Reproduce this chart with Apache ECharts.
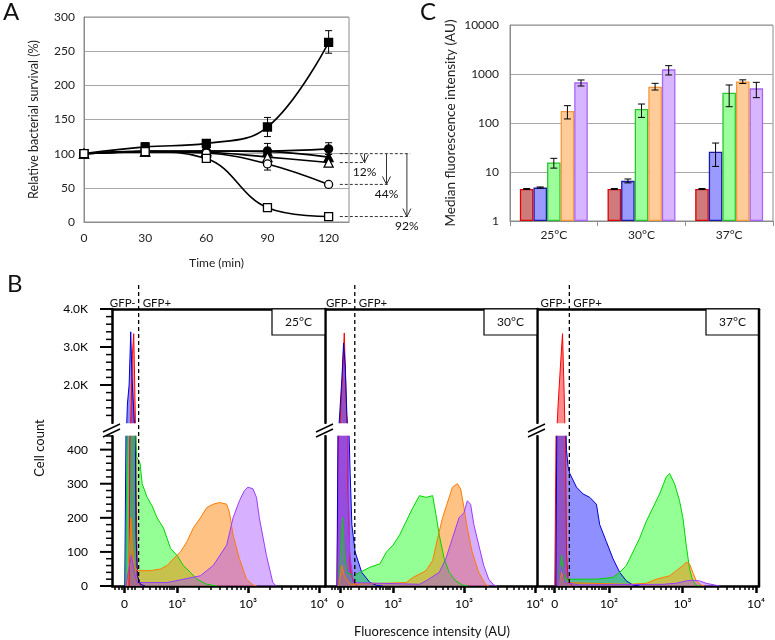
<!DOCTYPE html>
<html><head><meta charset="utf-8">
<script src="https://cdn.jsdelivr.net/npm/echarts@6/dist/echarts.min.js"></script>
<style>html,body{margin:0;padding:0;background:#fff}#c{width:775px;height:640px}</style>
</head><body><div id="c"></div>
<script>
// ================= Panel A data =================
const timeMin = [0, 30, 60, 90, 120];
const aXTicks = [0, 30, 60, 90, 120];
const survSqFilled   = [100, 110, 115, 139, 263];
const survSqFilledLo = [100, 104, 111, 125, 247];
const survSqFilledHi = [100, 116, 119, 153, 280];
const survCircFilled   = [100, 104, 104, 104, 107];
const survCircFilledLo = [100, 98, 100, 94, 99];
const survCircFilledHi = [100, 110, 108, 115, 116];
const survTriFilled   = [100, 103, 104, 103, 95];
const survTriFilledLo = [100, 99, 101, 98, 91];
const survTriFilledHi = [100, 107, 107, 108, 99];
const survTriOpen   = [100, 103, 102, 95, 87];
const survTriOpenLo = [100, 99, 98, 90, 81];
const survTriOpenHi = [100, 107, 106, 100, 92];
const survCircOpen   = [100, 103, 101, 85, 55];
const survCircOpenLo = [100, 98, 96, 76, 52];
const survCircOpenHi = [100, 108, 106, 94, 58];
const survSqOpen   = [100, 103, 93, 21, 8];
const survSqOpenLo = [100, 97, 88, 19, 7];
const survSqOpenHi = [100, 109, 98, 23, 9];
const reductionFrom = 100;
const reductionTo = [87, 55, 8];
const reductionLabels = ['12%', '44%', '92%'];

// ================= Panel C data =================
const tempCats = ['25°C', '30°C', '37°C'];
const mfiRed = [4.5, 4.5, 4.5],      mfiRedLo = [4.4, 4.4, 4.4],     mfiRedHi = [4.6, 4.6, 4.6];
const mfiBlue = [4.8, 6.6, 26],      mfiBlueLo = [4.7, 6.0, 13],     mfiBlueHi = [4.95, 7.2, 39];
const mfiGreen = [15.7, 193, 416],   mfiGreenLo = [12, 130, 215],    mfiGreenHi = [19, 244, 597];
const mfiOrange = [176, 551, 700],   mfiOrangeLo = [121, 471, 640],  mfiOrangeHi = [226, 645, 760];
const mfiPurple = [676, 1245, 510],  mfiPurpleLo = [569, 955, 329],  mfiPurpleHi = [755, 1480, 676];

// ================= Panel B data (x in display decades, y = cell count) =================
const bXTickVals = [1.26, 2, 3, 4];
const bXTickLabels = ['0', '10²', '10³', '10⁴'];
const bUpperTickVals = [2000, 3000, 4000];
const bUpperTickLabels = ['2.0K', '3.0K', '4.0K'];
const bLowerTickVals = [0, 100, 200, 300, 400];
const gfpGate = 1.46;

const hist25Red = [[1.326,0],[1.349,1000],[1.372,2800],[1.391,3350],[1.405,2000],[1.414,1100],[1.423,300],[1.442,30],[1.488,0]];
const hist25Blue = [[1.265,0],[1.284,500],[1.302,1500],[1.326,2000],[1.349,3400],[1.367,2200],[1.386,1500],[1.405,800],[1.423,150],[1.442,30],[1.488,5],[1.55,0]];
const hist25Green = [[1.28,0],[1.29,300],[1.32,600],[1.37,700],[1.41,500],[1.43,380],[1.48,360],[1.51,300],[1.58,260],[1.65,235],[1.72,200],[1.81,170],[1.91,110],[2.00,90],[2.09,60],[2.19,40],[2.28,20],[2.42,5],[2.56,0]];
const hist25Orange = [[1.30,0],[1.33,100],[1.35,200],[1.37,120],[1.40,60],[1.44,45],[1.63,45],[1.77,50],[1.86,60],[1.95,80],[2.05,100],[2.14,130],[2.23,170],[2.33,200],[2.42,230],[2.51,240],[2.60,245],[2.70,240],[2.74,215],[2.79,150],[2.88,80],[2.98,20],[3.07,3],[3.12,0]];
const hist25Purple = [[1.28,0],[1.33,60],[1.36,90],[1.40,40],[1.44,10],[1.86,10],[2.33,30],[2.51,60],[2.70,120],[2.79,200],[2.88,250],[2.95,280],[3.00,290],[3.07,285],[3.12,260],[3.16,200],[3.26,90],[3.35,10],[3.40,0]];

const hist30Red = [[1.209,0],[1.247,800],[1.279,2000],[1.312,3370],[1.340,1500],[1.363,300],[1.395,50],[1.442,10],[1.5,0]];
const hist30Blue = [[1.209,0],[1.233,800],[1.256,1500],[1.279,2200],[1.302,3100],[1.326,2500],[1.349,1200],[1.372,500],[1.395,330],[1.419,180],[1.465,100],[1.558,40],[1.674,10],[1.767,2],[1.85,0]];
const hist30Green = [[1.233,0],[1.265,120],[1.288,200],[1.312,100],[1.349,40],[1.442,30],[1.535,40],[1.674,55],[1.814,65],[1.907,100],[2.0,120],[2.093,150],[2.186,190],[2.279,230],[2.372,265],[2.465,260],[2.558,265],[2.605,210],[2.651,150],[2.721,80],[2.791,40],[2.884,15],[2.977,3],[3.05,0]];
const hist30Orange = [[1.233,0],[1.279,60],[1.312,30],[1.395,5],[2.186,10],[2.279,25],[2.465,45],[2.558,75],[2.651,160],[2.698,200],[2.744,230],[2.791,260],[2.837,290],[2.907,300],[2.953,285],[3.000,230],[3.047,170],[3.116,100],[3.209,40],[3.302,5],[3.349,0]];
const hist30Purple = [[1.219,0],[1.247,500],[1.279,700],[1.326,700],[1.358,500],[1.386,100],[1.442,10],[2.372,5],[2.465,15],[2.651,40],[2.744,80],[2.837,140],[2.930,200],[3.000,215],[3.047,250],[3.093,240],[3.140,180],[3.209,120],[3.279,60],[3.349,20],[3.419,3],[3.465,0]];

const hist37Red = [[1.262,0],[1.285,600],[1.308,1500],[1.339,2500],[1.367,3350],[1.389,1800],[1.403,600],[1.421,100],[1.443,20],[1.50,0]];
const hist37Blue = [[1.276,0],[1.294,600],[1.321,900],[1.353,800],[1.398,600],[1.421,400],[1.443,350],[1.466,330],[1.557,290],[1.647,270],[1.738,260],[1.828,240],[1.873,180],[1.964,130],[2.054,80],[2.145,40],[2.235,15],[2.326,3],[2.416,0]];
const hist37Green = [[1.308,0],[1.339,60],[1.357,90],[1.376,40],[1.421,20],[1.602,20],[1.828,20],[2.054,25],[2.145,40],[2.235,60],[2.326,100],[2.416,140],[2.507,190],[2.597,230],[2.688,270],[2.778,320],[2.824,330],[2.891,300],[2.959,250],[3.005,200],[3.050,120],[3.095,50],[3.140,15],[3.186,3],[3.231,0]];
const hist37Orange = [[1.308,0],[1.353,40],[1.398,10],[2.281,5],[2.507,8],[2.643,20],[2.824,30],[2.914,45],[3.005,60],[3.050,70],[3.095,65],[3.140,40],[3.186,15],[3.253,3],[3.299,0]];
const hist37Purple = [[1.308,0],[1.353,60],[1.398,10],[1.602,3],[2.733,5],[2.914,8],[3.050,15],[3.140,17],[3.231,15],[3.321,8],[3.457,2],[3.502,0]];

// ================= Layout / style =================
const F = 'Lato, "Open Sans", sans-serif';
const LAY = {
  A: {left: 84, top: 17, width: 265, height: 205},
  C: {left: 510, top: 25, width: 263, height: 196},
  Bpanels: [[112, 213], [325, 212], [537, 222]],
  Bxrange: [[1.085, 4.085], [1.04, 4.03], [1.02, 4.04]],
  BupTop: 309, BupH: 114, BloTop: 436, BloH: 150
};
const gridGray = '#8c8c8c';

const chart = echarts.init(document.getElementById('c'));

const grids = [
  Object.assign({show: true, borderColor: gridGray, borderWidth: 1}, LAY.A),
  Object.assign({show: true, borderColor: gridGray, borderWidth: 1}, LAY.C)
];
LAY.Bpanels.forEach(p => grids.push({left: p[0], top: LAY.BupTop, width: p[1], height: LAY.BupH}));   // 2..4
LAY.Bpanels.forEach(p => grids.push({left: p[0], top: LAY.BloTop, width: p[1], height: LAY.BloH}));   // 5..7
LAY.Bpanels.forEach(p => grids.push({left: p[0], top: LAY.BloTop, width: p[1], height: LAY.BloH}));   // 8..10 overlay

const txt = (size, color) => ({fontFamily: F, fontSize: size, color: color || '#222'});

const xAxes = [
  {gridIndex: 0, type: 'value', min: 0, max: 130, interval: 30,
   axisLine: {lineStyle: {color: gridGray}}, axisTick: {show: false}, splitLine: {show: false},
   axisLabel: Object.assign(txt(12), {margin: 10, formatter: v => aXTicks.includes(v) ? String(v) : ''}),
   name: 'Time (min)', nameLocation: 'middle', nameGap: 35, nameTextStyle: txt(12)},
  {gridIndex: 1, type: 'category', data: tempCats,
   axisLine: {lineStyle: {color: gridGray}}, axisTick: {show: true, length: 5, lineStyle: {color: gridGray}},
   axisLabel: Object.assign(txt(12), {margin: 8})}
];
const yAxes = [
  {gridIndex: 0, type: 'value', min: 0, max: 300, interval: 50,
   axisLine: {show: true, lineStyle: {color: gridGray}}, axisTick: {show: false},
   splitLine: {lineStyle: {color: '#a6a6a6'}},
   axisLabel: Object.assign(txt(12), {margin: 9}),
   name: 'Relative bacterial survival (%)', nameLocation: 'middle', nameGap: 44, nameRotate: 90, nameTextStyle: txt(12.5)},
  {gridIndex: 1, type: 'log', logBase: 10, min: 1, max: 10000,
   axisLine: {show: true, lineStyle: {color: gridGray}}, axisTick: {show: false},
   splitLine: {lineStyle: {color: '#a6a6a6'}},
   axisLabel: Object.assign(txt(12), {margin: 11, formatter: v => String(Math.round(v))}),
   name: 'Median fluorescence intensity (AU)', nameLocation: 'middle', nameGap: 52, nameRotate: 90, nameTextStyle: txt(13.5)}
];

// tick positions (axis decoration only)
const bMinorTicks = [];
[2, 3].forEach(d => { for (let k = 2; k <= 9; k++) bMinorTicks.push(d + Math.log10(k)); });
[1.13, 1.18, 1.22, 1.31, 1.36, 1.41, 1.52, 1.62, 1.70, 1.76, 1.81, 1.86, 1.90, 1.93, 1.96].forEach(v => bMinorTicks.push(v));
const upperMinor = []; for (let v = 1200; v < 4000; v += 200) if (v % 1000) upperMinor.push(v);
const lowerMinor = []; for (let v = 20; v <= 440; v += 20) if (v % 100) lowerMinor.push(v);

const blackLine = {lineStyle: {color: '#000', width: 2.5}};
LAY.Bpanels.forEach((p, i) => xAxes.push({gridIndex: 2 + i, type: 'value', position: 'top',
  min: LAY.Bxrange[i][0], max: LAY.Bxrange[i][1], axisLine: blackLine, axisTick: {show: false},
  axisLabel: {show: false}, splitLine: {show: false}}));
LAY.Bpanels.forEach((p, i) => xAxes.push({gridIndex: 5 + i, type: 'value', position: 'bottom',
  min: LAY.Bxrange[i][0], max: LAY.Bxrange[i][1], axisLine: blackLine,
  axisTick: {show: true, customValues: bXTickVals, length: 7, lineStyle: {color: '#000', width: 2.5}},
  axisLabel: Object.assign(txt(12, '#000'), {customValues: bXTickVals, margin: 12,
    formatter: v => { const k = bXTickVals.indexOf(v); return k >= 0 ? bXTickLabels[k] : ''; }}),
  splitLine: {show: false}}));
LAY.Bpanels.forEach((p, i) => xAxes.push({gridIndex: 8 + i, type: 'value', position: 'bottom',
  min: LAY.Bxrange[i][0], max: LAY.Bxrange[i][1], axisLine: {show: false},
  axisTick: {show: true, customValues: bMinorTicks.filter(v => v > LAY.Bxrange[i][0] && v < LAY.Bxrange[i][1]), length: 4, lineStyle: {color: '#000', width: 1.5}},
  axisLabel: {show: false}, splitLine: {show: false}}));

LAY.Bpanels.forEach((p, i) => yAxes.push({
  gridIndex: 2 + i, type: 'value', min: 1000, max: 4000,
  axisLine: {show: true, lineStyle: {color: '#000', width: 2.5}}, axisTick: {show: false},
  splitLine: {show: false},
  axisLabel: i === 0 ? Object.assign(txt(12, '#000'), {customValues: bUpperTickVals, margin: 24,
    formatter: v => { const k = bUpperTickVals.indexOf(v); return k >= 0 ? bUpperTickLabels[k] : ''; }}) : {show: false}
}));
LAY.Bpanels.forEach((p, i) => yAxes.push({
  gridIndex: 5 + i, type: 'value', min: 0, max: 440,
  axisLine: {show: true, lineStyle: {color: '#000', width: 2.5}}, axisTick: {show: false},
  splitLine: {show: false},
  axisLabel: i === 0 ? Object.assign(txt(12, '#000'), {customValues: bLowerTickVals, margin: 24, formatter: v => String(v)}) : {show: false}
}));
LAY.Bpanels.forEach((p, i) => yAxes.push({gridIndex: 8 + i, type: 'value', min: 0, max: 440, show: false}));

// ================= Series =================
const series = [];
function errRender(capW, colOffset) {
  return function (params, api) {
    const x = api.value(0), lo = api.value(1), hi = api.value(2);
    const p1 = api.coord([x, lo]), p2 = api.coord([x, hi]);
    const dx = colOffset ? colOffset(api) : 0;
    const cx = p1[0] + dx, h = capW / 2;
    const st = {stroke: '#000', lineWidth: 1};
    return {type: 'group', children: [
      {type: 'line', shape: {x1: cx, y1: p1[1], x2: cx, y2: p2[1]}, style: st},
      {type: 'line', shape: {x1: cx - h, y1: p1[1], x2: cx + h, y2: p1[1]}, style: st},
      {type: 'line', shape: {x1: cx - h, y1: p2[1], x2: cx + h, y2: p2[1]}, style: st}
    ]};
  };
}

const aDefs = [
  [survSqFilled, survSqFilledLo, survSqFilledHi, 'rect', '#000', 8],
  [survCircFilled, survCircFilledLo, survCircFilledHi, 'circle', '#000', 8],
  [survTriFilled, survTriFilledLo, survTriFilledHi, 'triangle', '#000', 9],
  [survTriOpen, survTriOpenLo, survTriOpenHi, 'triangle', '#fff', 9],
  [survCircOpen, survCircOpenLo, survCircOpenHi, 'circle', '#fff', 8],
  [survSqOpen, survSqOpenLo, survSqOpenHi, 'rect', '#fff', 8]
];
aDefs.forEach(d => {
  series.push({type: 'custom', xAxisIndex: 0, yAxisIndex: 0, silent: true, z: 2,
    encode: {x: 0, y: [1, 2]}, renderItem: errRender(7),
    data: timeMin.map((t, i) => [t, d[1][i], d[2][i]])});
});
aDefs.forEach(d => {
  series.push({type: 'line', xAxisIndex: 0, yAxisIndex: 0, smooth: 0.4, z: 3,
    data: timeMin.map((t, i) => [t, d[0][i]]),
    symbol: d[3], symbolSize: d[5], showSymbol: true,
    itemStyle: {color: d[4], borderColor: '#000', borderWidth: 1.3},
    lineStyle: {color: '#000', width: 1.6}});
});

const cDefs = [
  [mfiRed, mfiRedLo, mfiRedHi, '#cf7b7b', '#e00000'],
  [mfiBlue, mfiBlueLo, mfiBlueHi, '#9a9aff', '#1c1ca8'],
  [mfiGreen, mfiGreenLo, mfiGreenHi, '#9cff9c', '#2fc42f'],
  [mfiOrange, mfiOrangeLo, mfiOrangeHi, '#ffcc99', '#f59a3c'],
  [mfiPurple, mfiPurpleLo, mfiPurpleHi, '#d7b5ff', '#a866f2']
];
const cBarFrac = 0.155;
cDefs.forEach(d => {
  series.push({type: 'bar', xAxisIndex: 1, yAxisIndex: 1, data: d[0], barWidth: (cBarFrac * 100) + '%', barGap: '0%',
    itemStyle: {color: d[3], borderColor: d[4], borderWidth: 1.3}});
});
cDefs.forEach((d, k) => {
  series.push({type: 'custom', xAxisIndex: 1, yAxisIndex: 1, silent: true, z: 4,
    encode: {x: 0, y: [1, 2]},
    renderItem: errRender(7, api => (k - 2) * api.size([1, 0])[0] * cBarFrac),
    data: tempCats.map((c, i) => [i, d[1][i], d[2][i]])});
});

const bHist = [
  [hist25Red, hist25Blue, hist25Green, hist25Orange, hist25Purple],
  [hist30Red, hist30Blue, hist30Green, hist30Orange, hist30Purple],
  [hist37Red, hist37Blue, hist37Green, hist37Orange, hist37Purple]
];
const bStyle = [
  ['#ff0000', 'rgba(255,0,0,0.45)'],
  ['#0000d0', 'rgba(20,20,255,0.48)'],
  ['#00d400', 'rgba(0,255,0,0.42)'],
  ['#ff7a00', 'rgba(255,128,0,0.48)'],
  ['#9a3cff', 'rgba(160,70,255,0.42)']
];
bHist.forEach((panel, p) => {
  panel.forEach((h, c) => {
    [2 + p, 5 + p].forEach(ax => {
      series.push({type: 'line', xAxisIndex: ax, yAxisIndex: ax, data: h, clip: true,
        symbol: 'none', showSymbol: false, silent: true,
        lineStyle: {color: bStyle[c][0], width: 1},
        areaStyle: {color: bStyle[c][1], opacity: 1, origin: 0}});
    });
  });
});

chart.setOption({animation: false, textStyle: {fontFamily: F}, grid: grids, xAxis: xAxes, yAxis: yAxes, series: series});

// ================= Annotations / decorations =================
const g = [];
const T = (text, x, y, size, align, valign, rot) => ({type: 'text', x: x, y: y, rotation: rot || 0, z: 50,
  style: {text: text, fontFamily: F, fontSize: size, fill: '#111', align: align || 'left', verticalAlign: valign || 'top'}});
const Ln = (x1, y1, x2, y2, w, dash, col) => ({type: 'line', z: 50, shape: {x1: x1, y1: y1, x2: x2, y2: y2},
  style: {stroke: col || '#000', lineWidth: w || 1, lineDash: dash || null}});

g.push(T('A', 3, 0, 24));
g.push(T('C', 420, 0, 24));
g.push(T('B', 7, 272, 24));

// Panel A reduction annotations
const toA = (x, y) => chart.convertToPixel({xAxisIndex: 0, yAxisIndex: 0}, [x, y]);
const aAnno = {startX: 125.5, endX: [138, 149, 160], arrowX: [137.6, 148.4, 158.4]};
{
  const s = toA(aAnno.startX, reductionFrom), e = toA(aAnno.endX[2], reductionFrom);
  g.push(Ln(s[0], s[1], e[0], e[1], 1, [3, 2], '#333'));
}
reductionTo.forEach((v, i) => {
  const s = toA(aAnno.startX, v), e = toA(aAnno.endX[i], v);
  g.push(Ln(s[0], s[1], e[0], e[1], 1, [3, 2], '#333'));
  const a0 = toA(aAnno.arrowX[i], reductionFrom), a1 = toA(aAnno.arrowX[i], v);
  g.push(Ln(a0[0], a0[1], a1[0], a1[1], 1, null, '#333'));
  g.push({type: 'polyline', z: 50, shape: {points: [[a1[0] - 4, a1[1] - 8], [a1[0], a1[1]], [a1[0] + 4, a1[1] - 8]]},
    style: {stroke: '#333', lineWidth: 1, fill: null}});
  g.push(T(reductionLabels[i], a1[0], a1[1] + 4, 12, 'center', 'top'));
});

// Panel B decorations
const bTop = LAY.BupTop, bBot = LAY.BloTop + LAY.BloH;
// y-axis ticks of panel B (positions from the axes)
const toUp = v => chart.convertToPixel({xAxisIndex: 2, yAxisIndex: 2}, [LAY.Bxrange[0][0], v]);
const toLo = v => chart.convertToPixel({xAxisIndex: 5, yAxisIndex: 5}, [LAY.Bxrange[0][0], v]);
const tick = (pt, len, w) => { if (pt && isFinite(pt[0]) && isFinite(pt[1])) g.push(Ln(pt[0] - len, pt[1], pt[0], pt[1], w)); };
bUpperTickVals.forEach(v => tick(toUp(v), 12, 2));
upperMinor.forEach(v => tick(toUp(v), 6, 1.5));
bLowerTickVals.forEach(v => tick(toLo(v), 12, 2));
lowerMinor.forEach(v => tick(toLo(v), 6, 1.5));

LAY.Bpanels.forEach((p, i) => {
  const right = p[0] + p[1];
  g.push({type: 'rect', z: 48, shape: {x: p[0] + 1.5, y: LAY.BupTop + LAY.BupH + 0.5, width: p[1] - 3, height: LAY.BloTop - LAY.BupTop - LAY.BupH - 1},
    style: {fill: '#fff'}});
  g.push({type: 'rect', z: 50, shape: {x: right - 53, y: bTop, width: 53, height: 26},
    style: {fill: '#fff', stroke: '#000', lineWidth: 1.2}});
  g.push(T(tempCats[i], right - 26.5, bTop + 13, 12, 'center', 'middle'));
  const gx = chart.convertToPixel({xAxisIndex: 5 + i}, gfpGate);
  g.push(Ln(gx, 285, gx, bBot, 1.3, [4, 3], '#000'));
  g.push(T('GFP-', gx - 3, 303, 11.5, 'right', 'middle'));
  g.push(T('GFP+', gx + 4, 303, 11.5, 'left', 'middle'));
  const x0 = p[0];
  g.push({type: 'rect', z: 49, shape: {x: x0 - 9, y: 424, width: 18, height: 11}, style: {fill: '#fff'}});
  g.push(Ln(x0 - 9, 432, x0 + 8, 424, 1.4));
  g.push(Ln(x0 - 9, 437, x0 + 8, 429, 1.4));
});
{
  const last = LAY.Bpanels[2];
  const rx = last[0] + last[1];
  g.push(Ln(rx, bTop, rx, bBot, 2.5));
}
g.push(T('Cell count', 40, 448, 13, 'center', 'middle', Math.PI / 2));
g.push(T('Fluorescence intensity (AU)', 432, 632, 13, 'center', 'middle'));

chart.setOption({graphic: g});
</script>
</body></html>
